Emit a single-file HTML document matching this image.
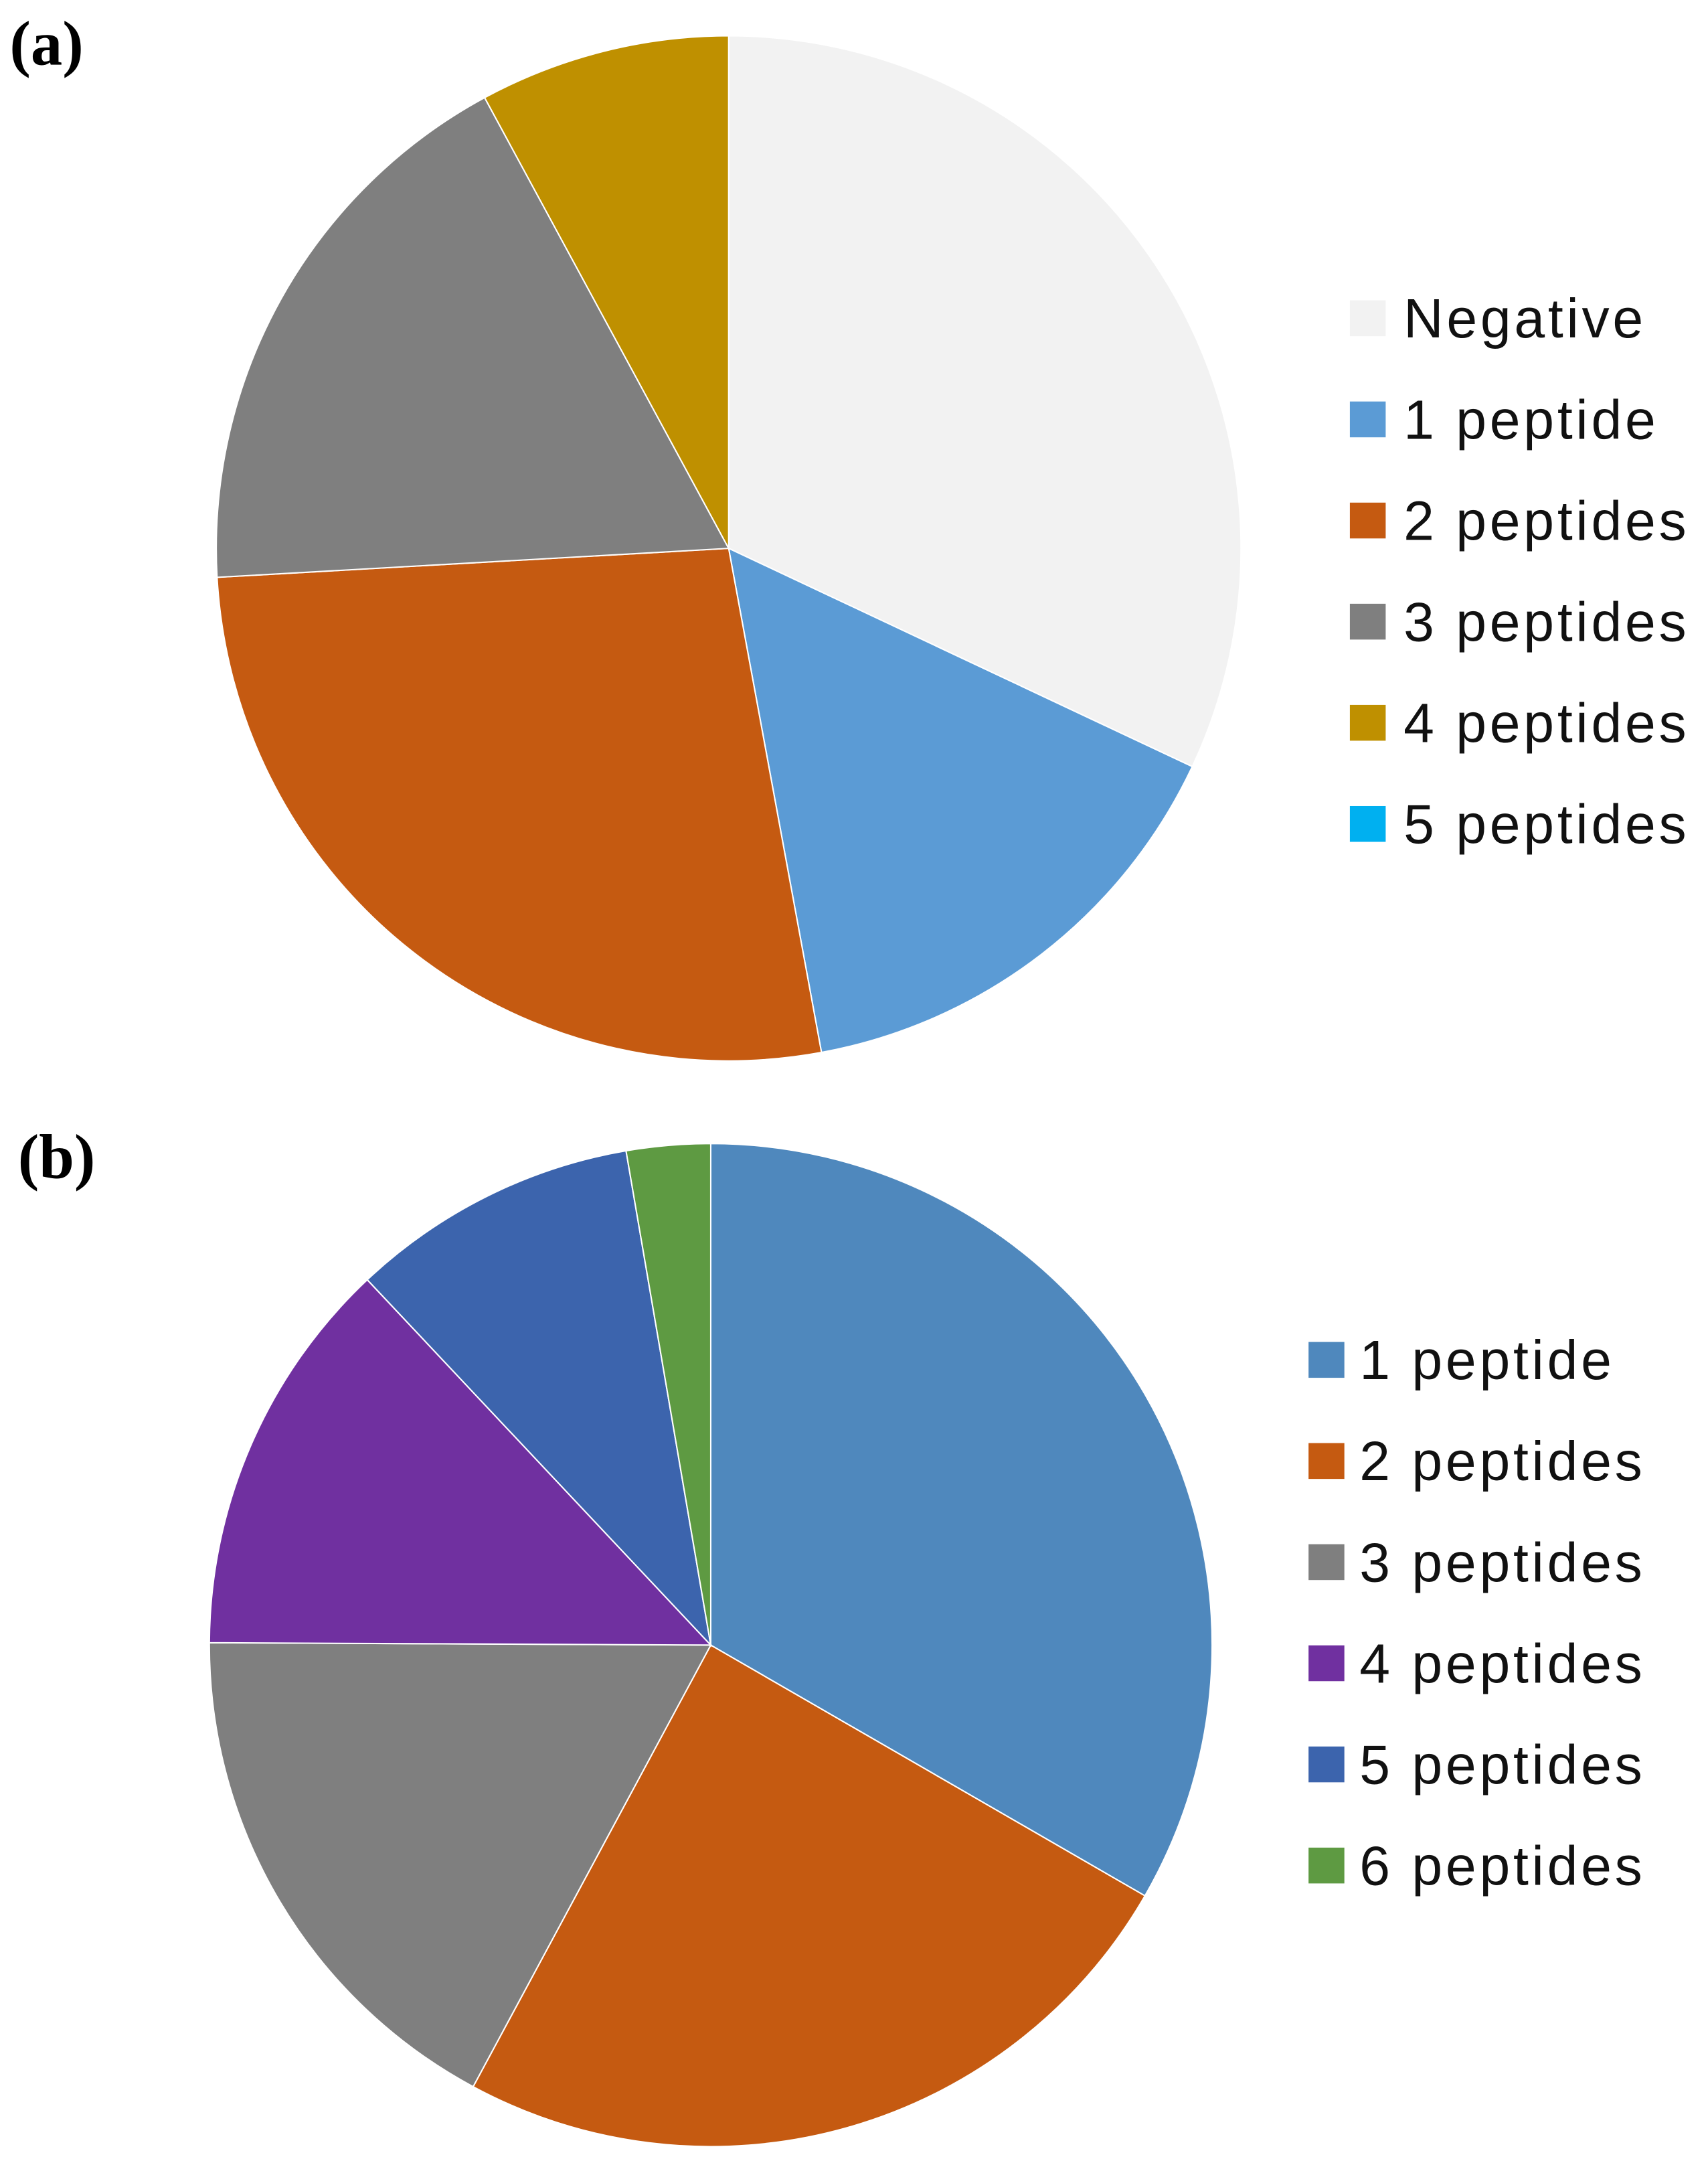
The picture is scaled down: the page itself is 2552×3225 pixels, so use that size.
<!DOCTYPE html>
<html><head><meta charset="utf-8"><style>
html,body{margin:0;padding:0;background:#fff;}
svg{display:block;}
</style></head><body>
<svg id="chart" width="2552" height="3225" viewBox="0 0 1240 1567" preserveAspectRatio="none" xmlns="http://www.w3.org/2000/svg">
<text x="7" y="47" font-family="Liberation Serif, serif" font-weight="bold" font-size="46">(a)</text>
<text x="13" y="855" font-family="Liberation Serif, serif" font-weight="bold" font-size="46">(b)</text>
<g id="pieA"></g>
<g id="legA"></g>
<g id="pieB"></g>
<g id="legB"></g>
</svg>
<script>
const categoriesA = ["Negative","1 peptide","2 peptides","3 peptides","4 peptides","5 peptides"];
const valuesA = [32, 15.1, 27, 18, 7.9, 0];
const colorsA = ["#f2f2f2","#5b9bd5","#c55a11","#7f7f7f","#bf9000","#00b0f0"];
const categoriesB = ["1 peptide","2 peptides","3 peptides","4 peptides","5 peptides","6 peptides"];
const valuesB = [33.3, 24.5, 17.2, 12.9, 9.3, 2.7];
const colorsB = ["#4f88bd","#c55a11","#7f7f7f","#7030a0","#3c64ad","#5e9a42"];
const NS = "http://www.w3.org/2000/svg";
function drawPie(g, vals, cols, cats, cx, cy, r){
  const tot = vals.reduce((a,b)=>a+b,0);
  let a0 = 0;
  vals.forEach((v,i)=>{
    if(v<=0) return;
    const a1 = a0 + v/tot*2*Math.PI;
    const x0 = cx + r*Math.sin(a0), y0 = cy - r*Math.cos(a0);
    const x1 = cx + r*Math.sin(a1), y1 = cy - r*Math.cos(a1);
    const p = document.createElementNS(NS,"path");
    p.setAttribute("d",`M${cx},${cy} L${x0},${y0} A${r},${r} 0 ${a1-a0>Math.PI?1:0} 1 ${x1},${y1} Z`);
    p.setAttribute("fill",cols[i]);
    p.setAttribute("stroke","#fff");
    p.setAttribute("stroke-width","1");
    
    
    g.appendChild(p);
    a0 = a1;
  });
}
function drawLegend(g, cats, cols, sx, tx, y0, step){
  cats.forEach((c,i)=>{
    const y = y0 + i*step;
    const r = document.createElementNS(NS,"rect");
    r.setAttribute("x",sx); r.setAttribute("y",y-13); r.setAttribute("width",26); r.setAttribute("height",26);
    r.setAttribute("fill",cols[i]);
    
    
    g.appendChild(r);
    const t = document.createElementNS(NS,"text");
    t.setAttribute("x",tx); t.setAttribute("y",y+14);
    t.setAttribute("font-family","Liberation Sans, sans-serif");
    t.setAttribute("font-size","40"); t.setAttribute("fill","#111");
    t.setAttribute("letter-spacing","2.3");
    t.textContent = c;
    
    
    g.appendChild(t);
  });
}
drawPie(document.getElementById("pieA"), valuesA, colorsA, categoriesA, 529, 398, 372);
drawLegend(document.getElementById("legA"), categoriesA, colorsA, 980, 1019, 231, 73.4);
drawPie(document.getElementById("pieB"), valuesB, colorsB, categoriesB, 516, 1194, 364);
drawLegend(document.getElementById("legB"), categoriesB, colorsB, 950, 987, 987, 73.4);
</script>
</body></html>
